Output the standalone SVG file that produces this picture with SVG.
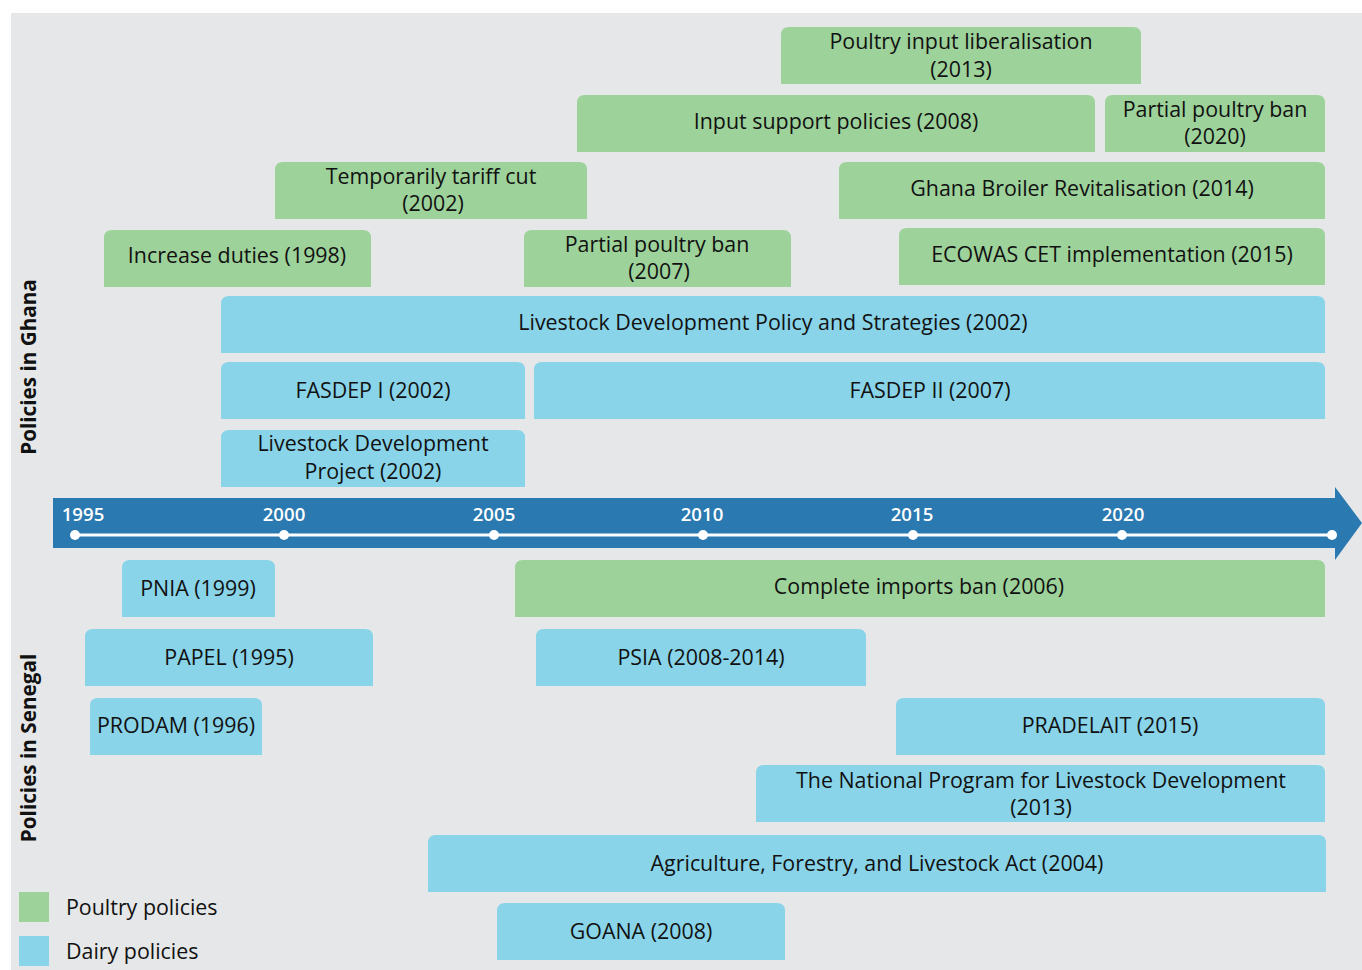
<svg xmlns="http://www.w3.org/2000/svg" width="1362" height="970" viewBox="0 0 1362 970">
<style>
.p{fill:#9ed29b}
.d{fill:#89d4e9}
.t{font-family:"Open Sans","Liberation Sans",sans-serif;font-size:21.4px;fill:#111;text-anchor:middle}
.yr{font-family:"Open Sans","Liberation Sans",sans-serif;font-size:18.6px;font-weight:600;fill:#fff;text-anchor:middle}
.side{font-family:"Open Sans","Liberation Sans",sans-serif;font-size:20.7px;font-weight:700;fill:#111;text-anchor:middle}
.lg{font-family:"Open Sans","Liberation Sans",sans-serif;font-size:21.4px;fill:#111}
</style>
<rect x="0" y="0" width="1362" height="970" fill="#ffffff"/>
<rect x="11" y="13" width="1351" height="957" fill="#e6e7e8"/>

<g id="side-labels">
<text class="side" transform="translate(36,367) rotate(-90)">Policies in Ghana</text>
<text class="side" transform="translate(36,748) rotate(-90)">Policies in Senegal</text>
</g>

<g id="timeline">
<path d="M53,498 H1335 V487 L1362,523 L1335,560 V548 H53 Z" fill="#2a79b0"/>
<line x1="75" y1="535" x2="1332" y2="535" stroke="#fff" stroke-width="3"/>
<g fill="#fff">
<circle cx="75" cy="535" r="5"/><circle cx="284" cy="535" r="5"/><circle cx="494" cy="535" r="5"/><circle cx="703" cy="535" r="5"/><circle cx="913" cy="535" r="5"/><circle cx="1122" cy="535" r="5"/><circle cx="1332" cy="535" r="5"/>
</g>
<text class="yr" x="83" y="521">1995</text>
<text class="yr" x="284" y="521">2000</text>
<text class="yr" x="494" y="521">2005</text>
<text class="yr" x="702" y="521">2010</text>
<text class="yr" x="912" y="521">2015</text>
<text class="yr" x="1123" y="521">2020</text>
</g>

<g id="connectors"></g>

<g id="n1"><path class="p" d="M781,84 V35 Q781,27 789,27 H1133 Q1141,27 1141,35 V84 Z"/><text class="t" x="961" y="49">Poultry input liberalisation</text><text class="t" x="961" y="77">(2013)</text></g>
<g id="n2"><path class="p" d="M577,152 V103 Q577,95 585,95 H1087 Q1095,95 1095,103 V152 Z"/><text class="t" x="836" y="129">Input support policies (2008)</text></g>
<g id="n3"><path class="p" d="M1105,152 V103 Q1105,95 1113,95 H1317 Q1325,95 1325,103 V152 Z"/><text class="t" x="1215" y="117">Partial poultry ban</text><text class="t" x="1215" y="144">(2020)</text></g>
<g id="n4"><path class="p" d="M275,219 V170 Q275,162 283,162 H579 Q587,162 587,170 V219 Z"/><text class="t" x="431" y="184">Temporarily tariff cut</text><text class="t" x="433" y="211">(2002)</text></g>
<g id="n5"><path class="p" d="M839,219 V170 Q839,162 847,162 H1317 Q1325,162 1325,170 V219 Z"/><text class="t" x="1082" y="196">Ghana Broiler Revitalisation (2014)</text></g>
<g id="n6"><path class="p" d="M104,287 V238 Q104,230 112,230 H363 Q371,230 371,238 V287 Z"/><text class="t" x="237" y="263">Increase duties (1998)</text></g>
<g id="n7"><path class="p" d="M524,287 V238 Q524,230 532,230 H783 Q791,230 791,238 V287 Z"/><text class="t" x="657" y="252">Partial poultry ban</text><text class="t" x="659" y="279">(2007)</text></g>
<g id="n8"><path class="p" d="M899,285 V236 Q899,228 907,228 H1317 Q1325,228 1325,236 V285 Z"/><text class="t" x="1112" y="262">ECOWAS CET implementation (2015)</text></g>
<g id="n9"><path class="d" d="M221,353 V304 Q221,296 229,296 H1317 Q1325,296 1325,304 V353 Z"/><text class="t" x="773" y="330">Livestock Development Policy and Strategies (2002)</text></g>
<g id="n10"><path class="d" d="M221,419 V370 Q221,362 229,362 H517 Q525,362 525,370 V419 Z"/><text class="t" x="373" y="398">FASDEP I (2002)</text></g>
<g id="n11"><path class="d" d="M534,419 V370 Q534,362 542,362 H1317 Q1325,362 1325,370 V419 Z"/><text class="t" x="930" y="398">FASDEP II (2007)</text></g>
<g id="n12"><path class="d" d="M221,487 V438 Q221,430 229,430 H517 Q525,430 525,438 V487 Z"/><text class="t" x="373" y="451">Livestock Development</text><text class="t" x="373" y="479">Project (2002)</text></g>

<g id="n13"><path class="d" d="M122,617 V568 Q122,560 130,560 H267 Q275,560 275,568 V617 Z"/><text class="t" x="198" y="596">PNIA (1999)</text></g>
<g id="n14"><path class="p" d="M515,617 V568 Q515,560 523,560 H1317 Q1325,560 1325,568 V617 Z"/><text class="t" x="919" y="594">Complete imports ban (2006)</text></g>
<g id="n15"><path class="d" d="M85,686 V637 Q85,629 93,629 H365 Q373,629 373,637 V686 Z"/><text class="t" x="229" y="665">PAPEL (1995)</text></g>
<g id="n16"><path class="d" d="M536,686 V637 Q536,629 544,629 H858 Q866,629 866,637 V686 Z"/><text class="t" x="701" y="665">PSIA (2008-2014)</text></g>
<g id="n17"><path class="d" d="M90,755 V706 Q90,698 98,698 H254 Q262,698 262,706 V755 Z"/><text class="t" x="176" y="733">PRODAM (1996)</text></g>
<g id="n18"><path class="d" d="M896,755 V706 Q896,698 904,698 H1317 Q1325,698 1325,706 V755 Z"/><text class="t" x="1110" y="733">PRADELAIT (2015)</text></g>
<g id="n19"><path class="d" d="M756,822 V773 Q756,765 764,765 H1317 Q1325,765 1325,773 V822 Z"/><text class="t" x="1041" y="788">The National Program for Livestock Development</text><text class="t" x="1041" y="815">(2013)</text></g>
<g id="n20"><path class="d" d="M428,892 V843 Q428,835 436,835 H1318 Q1326,835 1326,843 V892 Z"/><text class="t" x="877" y="871">Agriculture, Forestry, and Livestock Act (2004)</text></g>
<g id="n21"><path class="d" d="M497,960 V911 Q497,903 505,903 H777 Q785,903 785,911 V960 Z"/><text class="t" x="641" y="939">GOANA (2008)</text></g>

<g id="legend">
<rect class="p" x="19" y="892" width="30" height="30"/>
<rect class="d" x="19" y="936" width="30" height="30"/>
<text class="lg" x="66" y="915">Poultry policies</text>
<text class="lg" x="66" y="959">Dairy policies</text>
</g>
</svg>
